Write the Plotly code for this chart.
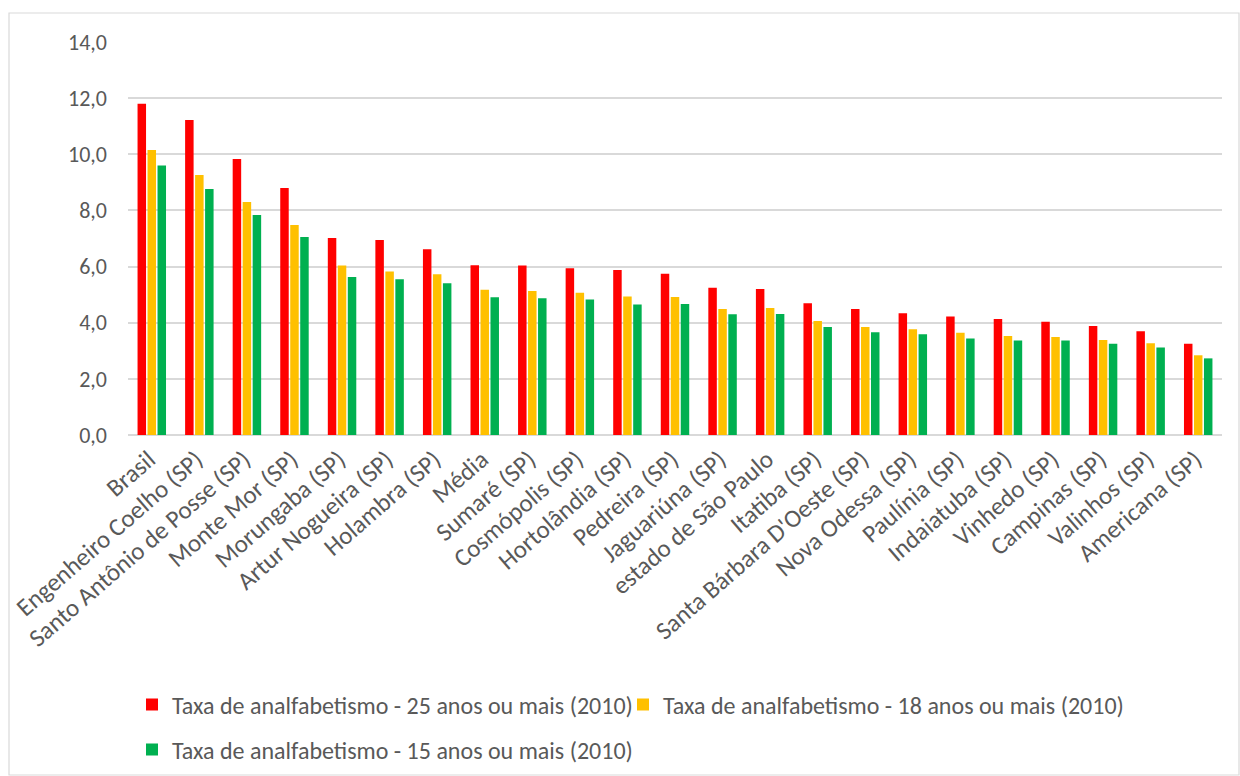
import plotly.graph_objects as go

categories = ["Brasil", "Engenheiro Coelho (SP)", "Santo Antônio de Posse (SP)", "Monte Mor (SP)",
              "Morungaba (SP)", "Artur Nogueira (SP)", "Holambra (SP)", "Média", "Sumaré (SP)",
              "Cosmópolis (SP)", "Hortolândia (SP)", "Pedreira (SP)", "Jaguariúna (SP)",
              "estado de São Paulo", "Itatiba (SP)", "Santa Bárbara D'Oeste (SP)", "Nova Odessa (SP)",
              "Paulínia (SP)", "Indaiatuba (SP)", "Vinhedo (SP)", "Campinas (SP)", "Valinhos (SP)",
              "Americana (SP)"]

taxa_25 = [11.8, 11.22, 9.83, 8.8, 7.02, 6.95, 6.62, 6.05, 6.04, 5.94, 5.88, 5.74, 5.25,
           5.2, 4.69, 4.49, 4.34, 4.22, 4.13, 4.03, 3.88, 3.7, 3.25]
taxa_18 = [10.15, 9.26, 8.3, 7.48, 6.04, 5.82, 5.73, 5.17, 5.13, 5.07, 4.93, 4.92, 4.49,
           4.52, 4.06, 3.85, 3.77, 3.64, 3.53, 3.49, 3.38, 3.27, 2.84]
taxa_15 = [9.6, 8.76, 7.84, 7.05, 5.63, 5.55, 5.41, 4.91, 4.87, 4.83, 4.65, 4.67, 4.3,
           4.31, 3.85, 3.66, 3.59, 3.44, 3.37, 3.37, 3.25, 3.12, 2.73]

names = ["Taxa de analfabetismo - 25 anos ou mais (2010)",
         "Taxa de analfabetismo - 18 anos ou mais (2010)",
         "Taxa de analfabetismo - 15 anos ou mais (2010)"]
colors = ["#FF0000", "#FFC000", "#00B050"]
legend_ids = ["legend", "legend3", "legend2"]

y_ticks = [0, 2, 4, 6, 8, 10, 12, 14]
y_labels = ["0,0", "2,0", "4,0", "6,0", "8,0", "10,0", "12,0", "14,0"]

FONT = "Carlito, Lato, Open Sans, sans-serif"
TXT = "#595959"

fig = go.Figure()
for vals, name, col, lg in zip([taxa_25, taxa_18, taxa_15], names, colors, legend_ids):
    fig.add_trace(go.Bar(x=categories, y=vals, name=name, marker_color=col,
                         marker_line_width=0, legend=lg))

legend_common = dict(orientation="h", xanchor="left", yanchor="middle",
                     xref="container", yref="container",
                     font=dict(family=FONT, size=24, color=TXT),
                     bgcolor="rgba(0,0,0,0)")

fig.update_layout(
    width=1240, height=776,
    margin=dict(l=128, r=18, t=42, b=341),
    paper_bgcolor="white", plot_bgcolor="white",
    barmode="group", bargap=0.37, bargroupgap=0.15,
    font=dict(family=FONT, size=22, color=TXT),
    legend=dict(x=(128 + 4) / 1240, y=1 - 705 / 776, **legend_common),
    legend3=dict(x=(128 + 4 + 491) / 1240, y=1 - 705 / 776, **legend_common),
    legend2=dict(x=(128 + 4) / 1240, y=1 - 750 / 776, **legend_common),
    showlegend=True,
)
fig.update_yaxes(range=[0, 14], tickvals=y_ticks, ticktext=y_labels,
                 showgrid=True, gridcolor="#D9D9D9", gridwidth=1.5,
                 zeroline=True, zerolinecolor="#D9D9D9", zerolinewidth=1.5,
                 showline=False, ticks="", ticklabelstandoff=20, automargin=False,
                 tickfont=dict(family=FONT, size=22, color=TXT))
fig.update_xaxes(tickangle=-41, showgrid=False, showline=False, ticks="",
                 ticklabelstandoff=4, ticklabelshift=-3, automargin=False,
                 tickfont=dict(family=FONT, size=25, color=TXT))

fig.add_shape(type="rect", xref="paper", yref="paper",
              x0=(9 - 128) / 1094, x1=(1239 - 128) / 1094,
              y0=(435 - 775) / 393, y1=(435 - 13) / 393,
              line=dict(color="#D9D9D9", width=1.2), fillcolor="rgba(0,0,0,0)", layer="below")

fig.write_html("out.html")
